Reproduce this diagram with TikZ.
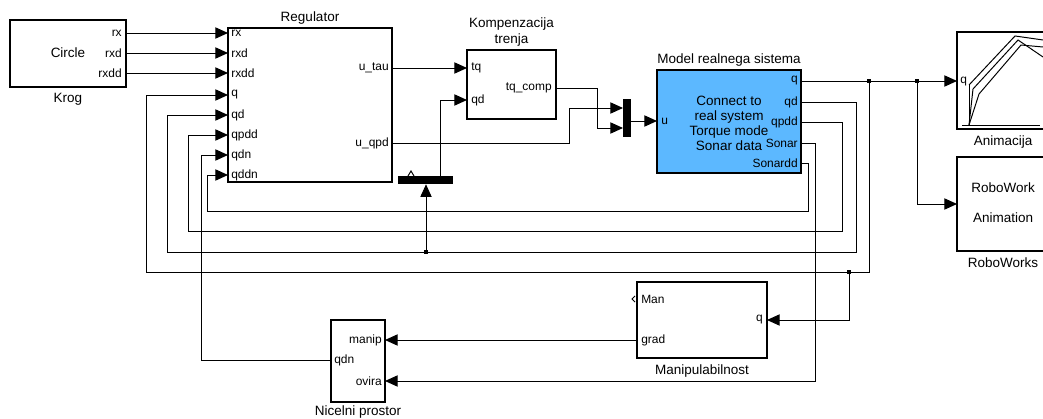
\documentclass[tikz,border=0pt]{standalone}
\usepackage{fontspec}
\setmainfont{Liberation Sans}
\usetikzlibrary{positioning, arrows.meta, fit}
\definecolor{slBlue}{RGB}{92,184,255}
\tikzset{
  every node/.style={font=\fontsize{8.5}{10}\selectfont},
  blk/.style={draw, line width=1pt, inner sep=0pt},
  bar/.style={fill=black, inner sep=0pt},
  ttl/.style={font=\fontsize{9.6}{11}\selectfont, align=center, inner sep=0pt},
  txt/.style={font=\fontsize{9.6}{10.6}\selectfont, align=center, inner sep=0pt},
  pin/.style={inner sep=0pt, anchor=west},
  pout/.style={inner sep=0pt, anchor=east},
  sig/.style={line width=0.7pt},
  arr/.style={sig, -{Triangle[length=9pt, width=8pt]}},
  jn/.style={fill=black, inner sep=0pt, minimum size=3pt},
}

\begin{document}
\begin{tikzpicture}[x=0.025cm, y=-0.025cm]
  \useasboundingbox (0,0) rectangle (1043,419);
  \clip (0,0) rectangle (1043,419);

  % blocks
  \node[blk, fit={(10,20) (126,87)}] (krog) {};
  \node[blk, fit={(228,28) (392,182)}] (reg) {};
  \node[blk, fit={(467,50) (556,119)}] (komp) {};
  \node[blk, fill=slBlue, fit={(657,70) (801,173)}] (model) {};
  \node[blk, fit={(957,32) (1049,129)}] (anim) {};
  \node[blk, fit={(957,157) (1049,251)}] (robo) {};
  \node[blk, fit={(637,282) (767,358)}] (manip) {};
  \node[blk, fit={(331,320) (385,402)}] (nic) {};
  \node[bar, fit={(623,99) (631,137)}] (mux) {};
  \node[bar, fit={(398,176) (453,184)}] (sel) {};

  % block titles
  \node[ttl, below=4pt of krog] (krog-t) {Krog};
  \node[ttl, above=2pt of reg] (reg-t) {Regulator};
  \node[ttl, above=2pt of komp] (komp-t) {Kompenzacija\\trenja};
  \node[ttl, above=2pt of model] (model-t) {Model realnega sistema};
  \node[ttl, below=4pt of anim] (anim-t) {Animacija};
  \node[ttl, below=4pt of robo] (robo-t) {RoboWorks};
  \node[ttl, below=4pt of manip] (manip-t) {Manipulabilnost};
  \node[ttl, below=2pt of nic] (nic-t) {Nicelni prostor};

  % texts inside blocks
  \node[txt] (krog-c) at (68,53) {Circle};
  \node[txt] (model-c) at (729,123) {Connect to\\real system\\Torque mode\\Sonar data};
  \node[txt] (robo-c1) at (1003,188) {RoboWork};
  \node[txt] (robo-c2) at (1003,218) {Animation};

  % ports
  \foreach \y/\p in {33/rx, 53/rxd, 73/rxdd} {
    \node[pout] (krog-\p-l) at (122,\y) {\p};
    \coordinate (krog-\p) at (126,\y);
  }
  \foreach \y/\p in {33/rx, 53/rxd, 73/rxdd, 95/q, 115/qd, 135/qpdd, 155/qdn, 175/qddn} {
    \node[pin] (reg-\p-l) at (231,\y) {\p};
    \coordinate (reg-\p) at (228,\y);
  }
  \node[pout] (reg-utau-l) at (389,68) {u\_tau};
  \node[pout] (reg-uqpd-l) at (389,143) {u\_qpd};
  \coordinate (reg-utau) at (392,68);
  \coordinate (reg-uqpd) at (392,143);

  \node[pin] (komp-tq-l) at (471,68) {tq};
  \node[pin] (komp-qd-l) at (471,100) {qd};
  \node[pout] (komp-tqc-l) at (552,88) {tq\_comp};
  \coordinate (komp-tq) at (467,68);
  \coordinate (komp-qd) at (467,100);
  \coordinate (komp-tqc) at (556,88);

  \coordinate (mux-in1) at (623,108);
  \coordinate (mux-in2) at (623,128);
  \coordinate (mux-out) at (631,121);

  \node[pin] (model-u-l) at (661,121) {u};
  \coordinate (model-u) at (657,121);
  \foreach \y/\p/\t in {81/q/q, 102/qd/qd, 122/qpdd/qpdd, 143/son/Sonar, 163/sondd/Sonardd} {
    \node[pout] (model-\p-l) at (798,\y) {\t};
    \coordinate (model-\p) at (801,\y);
  }

  \node[pin] (anim-q-l) at (960,82) {q};
  \coordinate (anim-q) at (957,81);
  \coordinate (robo-in) at (957,204);

  \node[pin] (manip-man-l) at (641,299) {Man};
  \node[pin] (manip-grad-l) at (641,340) {grad};
  \node[pout] (manip-q-l) at (763,320) {q};
  \coordinate (manip-grad) at (637,340);
  \coordinate (manip-q) at (767,320);

  \node[pout] (nic-manip-l) at (382,340) {manip};
  \node[pin] (nic-qdn-l) at (334,360) {qdn};
  \node[pout] (nic-ovira-l) at (382,381) {ovira};
  \coordinate (nic-manip) at (385,340);
  \coordinate (nic-qdn) at (331,360);
  \coordinate (nic-ovira) at (385,381);

  \coordinate (sel-out) at (440,176);

  % branch points
  \coordinate (jq1) at (869,81);
  \coordinate (jq2) at (917,81);
  \coordinate (jq3) at (849,272);
  \coordinate (jqd) at (426,252);

  % forward path
  \foreach \p in {rx, rxd, rxdd} \draw[arr] (krog-\p) -- (reg-\p);
  \draw[arr] (reg-utau) -- (komp-tq);
  \draw[arr] (reg-uqpd) -| (569,108) -- (mux-in1);
  \draw[arr] (komp-tqc) -| (597,128) -- (mux-in2);
  \draw[arr] (mux-out) -- (model-u);
  \draw[arr] (model-q) -- (anim-q);
  \draw[arr] (jq2) |- (robo-in);

  % feedback
  \draw[arr] (jq1) |- (146,272) |- (reg-q);
  \draw[arr] (jq3) |- (manip-q);
  \draw[arr] (model-qd) -| (856,252) -| (167,115) -- (reg-qd);
  \draw[arr] (jqd) -- (jqd |- sel.south);
  \draw[arr] (sel-out) |- (komp-qd);
  \draw[arr] (model-qpdd) -| (842,231) -| (188,135) -- (reg-qpdd);
  \draw[arr] (model-sondd) -| (808,211) -| (207,175) -- (reg-qddn);
  \draw[arr] (model-son) -| (815,381) -- (nic-ovira);
  \draw[arr] (manip-grad) -- (nic-manip);
  \draw[arr] (nic-qdn) -| (201,155) -- (reg-qdn);

  % unconnected ports
  \draw[sig] (635,296) -- (632,299) -- (635,302);
  \draw[sig] (408,176) -- (411,171) -- (414,176);

  % robot icon
  \draw[sig] (962,125) -- (1040,125);
  \draw[sig] (969,85) -- (969,125);
  \draw[sig] (969,85) -- (1015,36) -- (1043,40);
  \draw[sig] (969,125) -- (973,89) -- (1018,40) -- (1043,57);
  \draw[sig] (969,125) -- (979,94) -- (1021,45) -- (1043,47);

  \foreach \j in {jq1, jq2, jq3, jqd} \node[jn] (\j-dot) at (\j) {};
\end{tikzpicture}
\end{document}
